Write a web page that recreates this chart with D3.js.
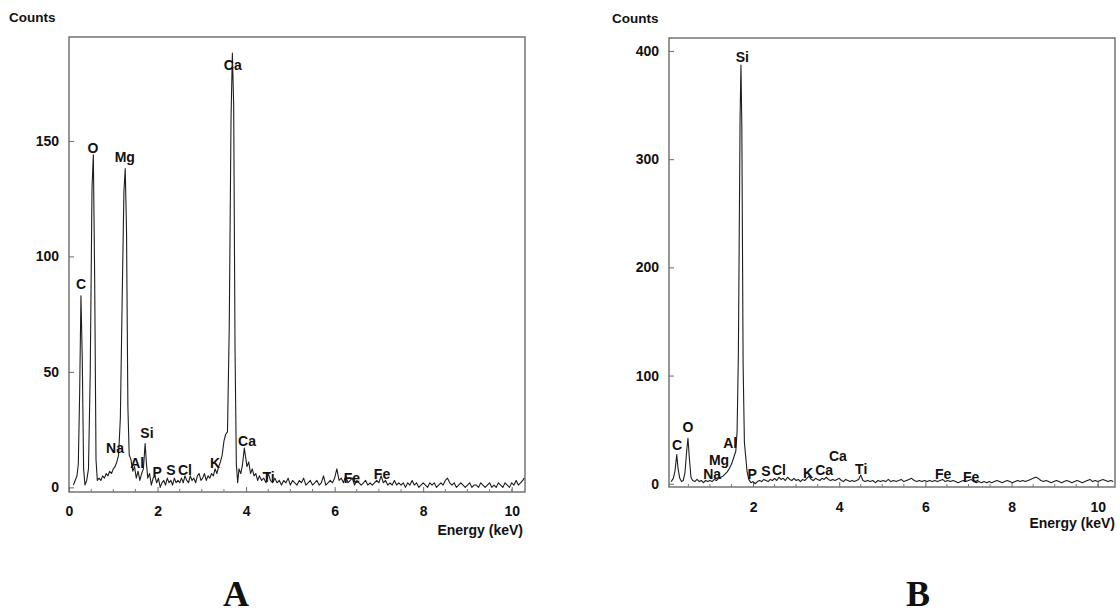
<!DOCTYPE html>
<html>
<head>
<meta charset="utf-8">
<script src="https://cdn.jsdelivr.net/npm/d3@7"></script>
<style>
  html, body { margin: 0; padding: 0; background: #fff; }
  svg { display: block; }
  text { font-family: "Liberation Sans", Arial, sans-serif; font-weight: bold; fill: #111; }
</style>
</head>
<body>
<svg id="chart" width="1120" height="614"></svg>
<script>
// ---------------- DATA ----------------
// Panel A spectrum: [energy keV, counts]
const spectrumA = [
  [0.10,1],[0.14,3],[0.18,5],[0.21,10],[0.24,40],[0.27,83],[0.30,55],[0.33,8],[0.36,1],[0.40,3],
  [0.44,8],[0.48,50],[0.52,130],[0.55,144],[0.58,90],[0.61,12],[0.64,3],[0.68,4],[0.72,3],[0.76,5],
  [0.80,4],[0.84,6],[0.88,5],[0.92,7],[0.96,6],[1.00,8],[1.04,9],[1.08,11],[1.12,14],[1.16,30],
  [1.20,80],[1.24,128],[1.27,138],[1.30,110],[1.33,35],[1.36,14],[1.40,12],[1.44,7],[1.48,9],[1.52,4],
  [1.56,7],[1.60,3],[1.64,6],[1.68,8],[1.72,19],[1.75,10],[1.78,4],[1.82,6],[1.86,1],[1.90,4],
  [1.94,5],[1.98,2],[2.02,4],[2.06,0],[2.10,2],[2.14,3],[2.18,1],[2.22,4],[2.26,2],[2.30,3],
  [2.34,1],[2.38,4],[2.42,2],[2.46,3],[2.50,2],[2.54,4],[2.58,2],[2.62,5],[2.66,3],[2.70,2],
  [2.74,5],[2.78,3],[2.82,4],[2.86,2],[2.90,5],[2.94,6],[2.98,3],[3.02,4],[3.06,6],[3.10,3],
  [3.14,5],[3.18,4],[3.22,6],[3.26,5],[3.30,8],[3.34,6],[3.38,9],[3.42,11],[3.46,14],[3.50,20],
  [3.54,23],[3.58,24],[3.62,70],[3.66,160],[3.69,188],[3.72,165],[3.75,60],[3.78,10],[3.81,2],[3.84,8],
  [3.88,6],[3.92,10],[3.96,17],[3.99,13],[4.02,9],[4.06,11],[4.10,6],[4.14,8],[4.18,5],[4.22,6],
  [4.26,3],[4.30,5],[4.35,3],[4.40,4],[4.45,2],[4.50,6],[4.55,3],[4.60,2],[4.65,4],[4.70,2],
  [4.75,3],[4.80,1],[4.85,3],[4.90,2],[4.95,4],[5.00,1],[5.05,3],[5.10,2],[5.15,1],[5.20,3],
  [5.25,2],[5.30,4],[5.35,1],[5.40,2],[5.45,3],[5.50,1],[5.55,2],[5.60,3],[5.65,1],[5.70,2],
  [5.75,5],[5.80,1],[5.85,2],[5.90,3],[5.95,2],[6.00,4],[6.05,8],[6.10,3],[6.15,4],[6.20,2],
  [6.25,5],[6.30,2],[6.35,3],[6.40,4],[6.45,1],[6.50,3],[6.55,2],[6.60,1],[6.65,2],[6.70,3],
  [6.75,1],[6.80,2],[6.85,1],[6.90,2],[6.95,3],[7.00,2],[7.05,5],[7.10,2],[7.15,3],[7.20,1],
  [7.25,2],[7.30,1],[7.35,3],[7.40,1],[7.45,2],[7.50,1],[7.55,2],[7.60,0],[7.65,2],[7.70,1],
  [7.75,3],[7.80,1],[7.85,2],[7.90,0],[7.95,1],[8.00,2],[8.05,1],[8.10,0],[8.15,2],[8.20,1],
  [8.25,2],[8.30,0],[8.35,1],[8.40,2],[8.45,1],[8.50,3],[8.55,4],[8.60,2],[8.65,1],[8.70,2],
  [8.75,0],[8.80,1],[8.85,2],[8.90,1],[8.95,0],[9.00,1],[9.05,2],[9.10,0],[9.15,1],[9.20,1],
  [9.25,0],[9.30,2],[9.35,1],[9.40,0],[9.45,1],[9.50,2],[9.55,0],[9.60,1],[9.65,0],[9.70,2],
  [9.75,1],[9.80,0],[9.85,2],[9.90,1],[9.95,0],[10.00,2],[10.05,1],[10.10,3],[10.15,1],[10.20,2],
  [10.25,3],[10.28,4]
];

// Panel B spectrum: [energy keV, counts]
const spectrumB = [
  [0.10,2],[0.15,5],[0.19,12],[0.23,27],[0.26,14],[0.30,5],[0.34,2],[0.38,3],[0.42,10],[0.46,30],
  [0.49,42],[0.52,25],[0.56,6],[0.60,3],[0.65,2],[0.70,4],[0.75,2],[0.80,3],[0.85,1],[0.90,3],
  [0.95,2],[1.00,3],[1.05,2],[1.10,4],[1.15,3],[1.20,5],[1.25,6],[1.30,7],[1.35,9],[1.40,11],
  [1.45,14],[1.50,18],[1.55,24],[1.60,30],[1.63,48],[1.66,120],[1.70,340],[1.72,387],[1.74,330],[1.77,110],
  [1.80,38],[1.83,25],[1.86,12],[1.90,4],[1.95,1],[2.00,2],[2.05,0],[2.10,2],[2.15,3],[2.20,2],
  [2.25,4],[2.30,3],[2.35,2],[2.40,4],[2.45,3],[2.50,5],[2.55,3],[2.60,6],[2.65,4],[2.70,5],
  [2.75,3],[2.80,6],[2.85,4],[2.90,3],[2.95,5],[3.00,3],[3.05,4],[3.10,2],[3.15,4],[3.20,3],
  [3.25,5],[3.30,7],[3.35,4],[3.40,3],[3.45,5],[3.50,4],[3.55,3],[3.60,5],[3.65,4],[3.70,6],
  [3.75,4],[3.80,3],[3.85,4],[3.90,3],[3.95,4],[4.00,5],[4.05,3],[4.10,2],[4.15,4],[4.20,3],
  [4.25,2],[4.30,3],[4.35,2],[4.40,3],[4.45,4],[4.50,8],[4.55,3],[4.60,2],[4.66,3],[4.72,2],
  [4.78,3],[4.84,1],[4.90,3],[4.96,2],[5.02,3],[5.08,2],[5.14,4],[5.20,2],[5.26,3],[5.32,2],
  [5.38,3],[5.44,4],[5.50,2],[5.56,3],[5.62,4],[5.68,5],[5.74,3],[5.80,2],[5.86,3],[5.92,2],
  [5.98,3],[6.04,2],[6.10,3],[6.16,2],[6.22,3],[6.28,2],[6.34,3],[6.40,4],[6.46,2],[6.52,3],
  [6.58,2],[6.64,3],[6.70,2],[6.76,1],[6.82,2],[6.88,3],[6.94,2],[7.00,3],[7.06,4],[7.12,2],
  [7.18,1],[7.24,2],[7.30,1],[7.36,2],[7.42,1],[7.48,2],[7.54,1],[7.60,2],[7.66,3],[7.72,2],
  [7.78,1],[7.84,2],[7.90,3],[7.96,2],[8.02,1],[8.08,2],[8.14,3],[8.20,2],[8.26,3],[8.32,2],
  [8.38,3],[8.44,4],[8.50,5],[8.56,6],[8.62,5],[8.68,3],[8.74,2],[8.80,3],[8.86,2],[8.92,1],
  [8.98,2],[9.04,3],[9.10,2],[9.16,1],[9.22,2],[9.28,3],[9.34,2],[9.40,1],[9.46,2],[9.52,3],
  [9.58,2],[9.64,1],[9.70,2],[9.76,3],[9.82,4],[9.88,2],[9.94,3],[10.00,2],[10.06,3],[10.12,4],
  [10.18,3],[10.24,2],[10.30,3],[10.36,2]
];

// Element labels: [text, energy keV, counts level of label centre]
const labelsA = [
  ["C",0.27,88],["O",0.54,147],["Mg",1.26,143],["Ca",3.70,183],["Na",1.04,17],["Si",1.76,23.5],
  ["Al",1.54,10.6],["P",1.99,6.7],["S",2.30,7.5],["Cl",2.62,7.5],["K",3.30,10.6],["Ca",4.02,20],
  ["Ti",4.51,4.5],["Fe",6.39,4],["Fe",7.07,5.8]
];
const labelsB = [
  ["Si",1.75,394],["C",0.24,36],["O",0.49,52],["Na",1.05,9],["Mg",1.21,22],["Al",1.47,38],
  ["P",1.98,9],["S",2.30,12],["Cl",2.60,13],["K",3.28,10],["Ca",3.65,13],["Ca",3.97,26],
  ["Ti",4.51,14],["Fe",6.41,9],["Fe",7.06,6]
];

const xTicksA = [0, 2, 4, 6, 8, 10];
const xTicksB = [2, 4, 6, 8, 10];
const yTicksA = [0, 50, 100, 150];
const yTicksB = [0, 100, 200, 300, 400];
const xMinorA = [0.5,1,1.5,2.5,3,3.5,4.5,5,5.5,6.5,7,7.5,8.5,9,9.5,10];
const xMinorB = [0.5,1,1.5,2.5,3,3.5,4.5,5,5.5,6.5,7,7.5,8.5,9,9.5,10];
const yLabel = "Counts";
const xLabel = "Energy (keV)";
const panelLetters = ["A", "B"];

// ---------------- LAYOUT ----------------
const panels = [
  { data: spectrumA, labels: labelsA, xt: xTicksA, yt: yTicksA, xm: xMinorA,
    xd: [0, 10.3], xr: [69, 525], yd: [-2, 195], yr: [492, 37],
    xPad: 14, countsPos: [9, 22], energyPos: [523, 535], letterPos: [236, 606], letter: panelLetters[0] },
  { data: spectrumB, labels: labelsB, xt: xTicksB, yt: yTicksB, xm: xMinorB,
    xd: [0.05, 10.4], xr: [669, 1115], yd: [-3, 412], yr: [487, 38],
    xPad: 15, countsPos: [612, 23], energyPos: [1115, 528], letterPos: [918, 606], letter: panelLetters[1] }
];

const svg = d3.select("#chart");
svg.append("rect").attr("width", 1120).attr("height", 614).attr("fill", "#fff");

panels.forEach(p => {
  const x = d3.scaleLinear().domain(p.xd).range(p.xr);
  const y = d3.scaleLinear().domain(p.yd).range(p.yr);
  const g = svg.append("g");

  // frame
  g.append("rect")
    .attr("x", p.xr[0]).attr("y", p.yr[1])
    .attr("width", p.xr[1] - p.xr[0]).attr("height", p.yr[0] - p.yr[1])
    .attr("fill", "none").attr("stroke", "#6a6a6a").attr("stroke-width", 1.4);

  // x axis
  const xa = g.append("g").attr("transform", `translate(0,${p.yr[0]})`)
    .call(d3.axisBottom(x).tickValues(p.xt).tickSize(-5).tickPadding(p.xPad).tickFormat(d3.format("d")));
  xa.select(".domain").remove();
  xa.selectAll("line").attr("stroke", "#6a6a6a");
  xa.selectAll("text").attr("font-size", 14).attr("fill", "#111");
  // minor x ticks
  g.selectAll(null).data(p.xm).enter().append("line")
    .attr("x1", d => x(d)).attr("x2", d => x(d))
    .attr("y1", p.yr[0]).attr("y2", p.yr[0] - 3)
    .attr("stroke", "#7a7a7a").attr("stroke-width", 1);

  // y axis
  const ya = g.append("g").attr("transform", `translate(${p.xr[0]},0)`)
    .call(d3.axisLeft(y).tickValues(p.yt).tickSize(-5).tickPadding(10).tickFormat(d3.format("d")));
  ya.select(".domain").remove();
  ya.selectAll("line").attr("stroke", "#6a6a6a");
  ya.selectAll("text").attr("font-size", 14).attr("fill", "#111");

  // spectrum line
  const line = d3.line().x(d => x(d[0])).y(d => y(d[1]));
  g.append("path").datum(p.data)
    .attr("d", line)
    .attr("fill", "none").attr("stroke", "#1e1e1e").attr("stroke-width", 1.1)
    .attr("stroke-linejoin", "round");

  // element labels
  g.selectAll(null).data(p.labels).enter().append("text")
    .attr("x", d => x(d[1])).attr("y", d => y(d[2]) + 5)
    .attr("text-anchor", "middle").attr("font-size", 14)
    .text(d => d[0]);

  // axis titles
  g.append("text").attr("x", p.countsPos[0]).attr("y", p.countsPos[1])
    .attr("font-size", 13.5).text(yLabel);
  g.append("text").attr("x", p.energyPos[0]).attr("y", p.energyPos[1])
    .attr("text-anchor", "end").attr("font-size", 14).text(xLabel);

  // panel letter
  g.append("text").attr("x", p.letterPos[0]).attr("y", p.letterPos[1])
    .attr("text-anchor", "middle").attr("font-size", 36)
    .style("font-family", "'Liberation Serif', 'Times New Roman', serif")
    .text(p.letter);
});
</script>
</body>
</html>
